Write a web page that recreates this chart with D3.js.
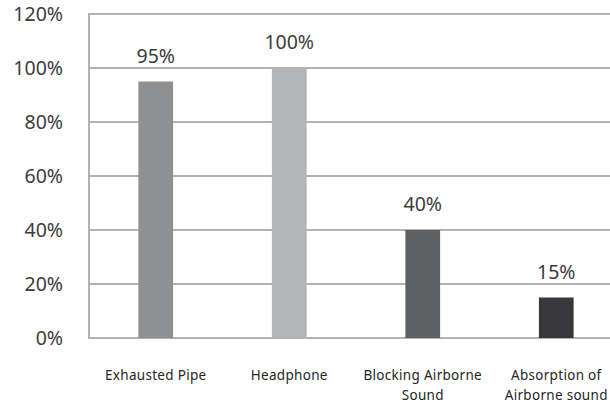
<!DOCTYPE html>
<html>
<head>
<meta charset="utf-8">
<script src="https://cdn.jsdelivr.net/npm/d3@7"></script>
<style>
  html, body { margin: 0; padding: 0; background: #fff; }
  svg { display: block; }
</style>
</head>
<body>
<svg id="chart" width="610" height="406"></svg>
<script>
// Noise control approaches and their effectiveness
const categories = ["Exhausted Pipe", "Headphone", "Blocking Airborne Sound", "Absorption of Airborne sound"];
const categoryLines = [["Exhausted Pipe"], ["Headphone"], ["Blocking Airborne", "Sound"], ["Absorption of", "Airborne sound"]];
const values = [95, 100, 40, 15];
const barColors = ["#8f9092", "#b3b4b6", "#5e5f61", "#38373a"];
const yTicks = [0, 20, 40, 60, 80, 100, 120];

const svg = d3.select("#chart");
const margin = { left: 89, right: -13, top: 14, bottom: 68 };
const W = 610, H = 406;
const x0 = margin.left, x1 = W - margin.right;
const yTop = margin.top, yBot = H - margin.bottom;

const x = d3.scaleBand().domain(categories).range([x0, x1]).paddingInner(0.74).paddingOuter(0.37);
const y = d3.scaleLinear().domain([0, 120]).range([yBot, yTop]);

const font = "'Noto Sans', sans-serif";
const textColor = "#3c3c3c";
const gridColor = "#b2b2b2";

// horizontal gridlines
svg.append("g")
  .selectAll("line")
  .data(yTicks)
  .join("line")
  .attr("x1", x0).attr("x2", x1)
  .attr("y1", d => y(d)).attr("y2", d => y(d))
  .attr("stroke", gridColor).attr("stroke-width", 2);

// left axis line
svg.append("line")
  .attr("x1", x0).attr("x2", x0)
  .attr("y1", y(120) - 1).attr("y2", y(0) + 1)
  .attr("stroke", gridColor).attr("stroke-width", 2);

// y axis labels
const yAxis = d3.axisLeft(y).tickValues(yTicks).tickFormat(d => d + "%").tickSize(0).tickPadding(26);
const yg = svg.append("g").attr("transform", `translate(${x0},0)`).call(yAxis);
yg.select(".domain").remove();
yg.selectAll("text")
  .attr("font-family", font).attr("font-size", 19.5).attr("fill", textColor);

// bars
svg.append("g")
  .selectAll("rect")
  .data(values)
  .join("rect")
  .attr("x", (d, i) => x(categories[i]))
  .attr("width", x.bandwidth())
  .attr("y", d => y(d))
  .attr("height", d => y(0) - y(d))
  .attr("fill", (d, i) => barColors[i]);

// value labels
svg.append("g")
  .selectAll("text")
  .data(values)
  .join("text")
  .attr("x", (d, i) => x(categories[i]) + x.bandwidth() / 2)
  .attr("y", d => y(d) - 19)
  .attr("text-anchor", "middle")
  .attr("font-family", font).attr("font-size", 19.5).attr("fill", textColor)
  .text(d => d + "%");

// category labels
const cg = svg.append("g");
categories.forEach((c, i) => {
  const t = cg.append("text")
    .attr("x", x(c) + x.bandwidth() / 2)
    .attr("y", yBot + 42)
    .attr("text-anchor", "middle")
    .attr("font-family", font).attr("font-size", 13.5)
    .attr("letter-spacing", 0.3).attr("fill", "#262626");
  categoryLines[i].forEach((line, j) => {
    t.append("tspan")
      .attr("x", x(c) + x.bandwidth() / 2)
      .attr("dy", j === 0 ? 0 : 20)
      .text(line);
  });
});
</script>
</body>
</html>
